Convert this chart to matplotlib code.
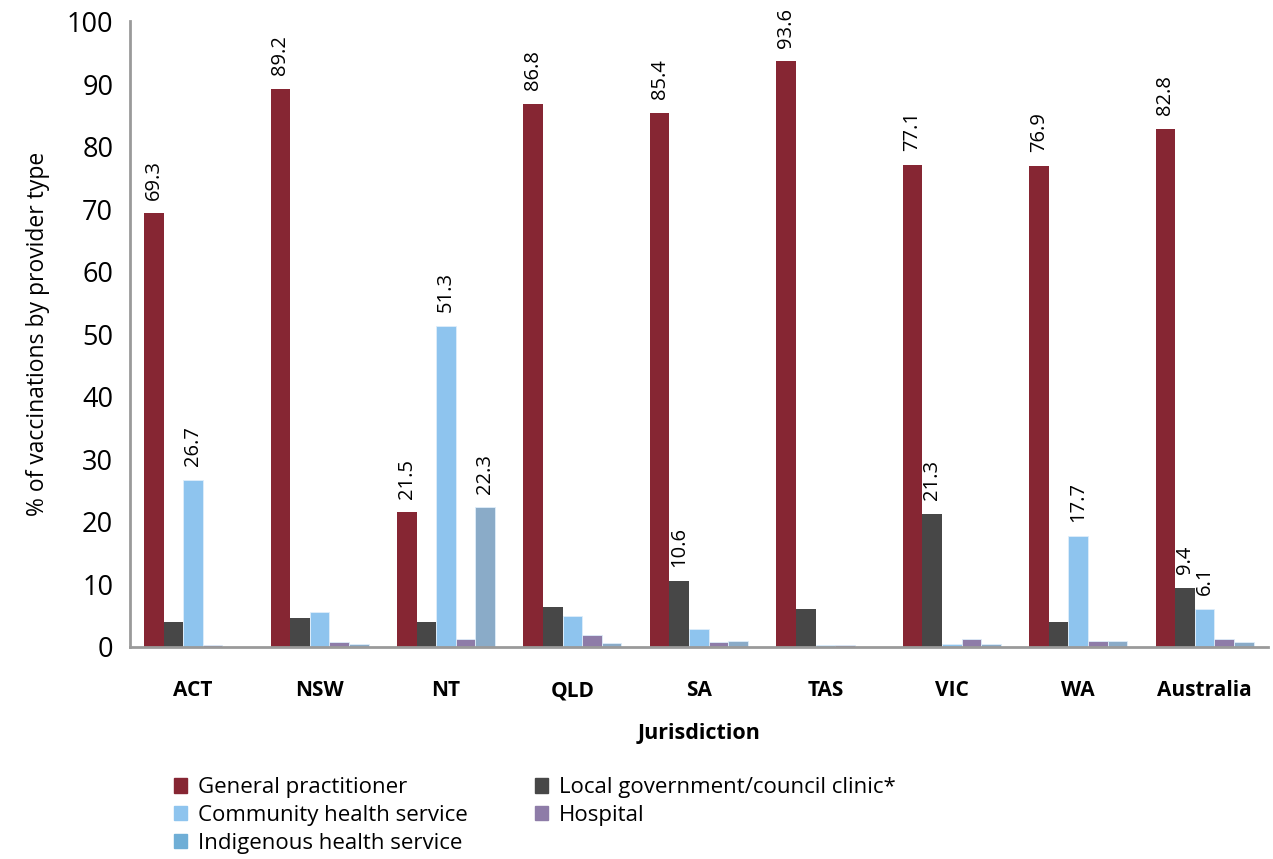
import matplotlib.pyplot as plt
import numpy as np

plt.rcParams['font.family'] = ['Open Sans', 'DejaVu Sans']

jurisdictions = ['ACT', 'NSW', 'NT', 'QLD', 'SA', 'TAS', 'VIC', 'WA', 'Australia']
providers = ['General practitioner', 'Local government/council clinic*',
             'Community health service', 'Hospital', 'Indigenous health service']

gp = [69.3, 89.2, 21.5, 86.8, 85.4, 93.6, 77.1, 76.9, 82.8]
local_gov = [4.0, 4.6, 4.0, 6.4, 10.6, 6.0, 21.3, 3.9, 9.4]
community = [26.7, 5.5, 51.3, 5.0, 2.8, 0.3, 0.4, 17.7, 6.1]
hospital = [0.3, 0.8, 1.3, 1.9, 0.8, 0.3, 1.2, 1.0, 1.2]
indigenous = [0.0, 0.5, 22.3, 0.6, 1.0, 0.0, 0.4, 1.0, 0.8]

# which bars carry a value label
labelled = {
    0: range(9),
    1: [4, 6, 8],
    2: [0, 2, 7, 8],
    3: [],
    4: [2],
}

series = [gp, local_gov, community, hospital, indigenous]
colors = ['#862633', '#474747', '#8EC4EE', '#8E7CA8', '#8AABC8']
legend_colors = ['#862633', '#474747', '#8EC4EE', '#8E7CA8', '#6FAED6']

fig = plt.figure(figsize=(12.73, 8.59), dpi=100)
ax = fig.add_axes([0.102, 0.247, 0.894, 0.728])

x = np.arange(len(jurisdictions))
w = 0.155
for i, vals in enumerate(series):
    pos = x + (i - 2) * w
    ax.bar(pos, vals, width=w, color=colors[i], edgecolor='#dfeefa',
           linewidth=0.6 if i >= 2 else 0)
    for j in labelled[i]:
        ax.text(pos[j], vals[j] + 2.2, f'{vals[j]:.1f}', rotation=90,
                ha='center', va='bottom', fontsize=14.5)

ax.set_xlim(-0.5, len(jurisdictions) - 0.5)
ax.set_ylim(0, 100)
ax.set_yticks(range(0, 101, 10))
ax.tick_params(axis='y', labelsize=19.5, length=0, pad=12)
ax.tick_params(axis='x', length=0, pad=24)
ax.set_xticks(x)
ax.set_xticklabels(jurisdictions, fontsize=15, fontweight='bold')
ax.set_xlabel('Jurisdiction', fontsize=15.5, fontweight='bold', labelpad=16)
ax.set_ylabel('% of vaccinations by provider type', fontsize=16.5, labelpad=12)

for s in ['top', 'right']:
    ax.spines[s].set_visible(False)
for s in ['left', 'bottom']:
    ax.spines[s].set_color('#9a9a9a')
    ax.spines[s].set_linewidth(2)

order = [0, 2, 4, 1, 3]
handles = [plt.Rectangle((0, 0), 1, 1, color=legend_colors[k]) for k in order]
fig.legend(handles, [providers[k] for k in order], ncol=2, frameon=False,
           loc='upper left', bbox_to_anchor=(0.128, 0.108), fontsize=16,
           handlelength=0.6, handleheight=0.6, handletextpad=0.5,
           columnspacing=3.0, labelspacing=0.3, borderpad=0)

fig.savefig('out.png', dpi=100)
